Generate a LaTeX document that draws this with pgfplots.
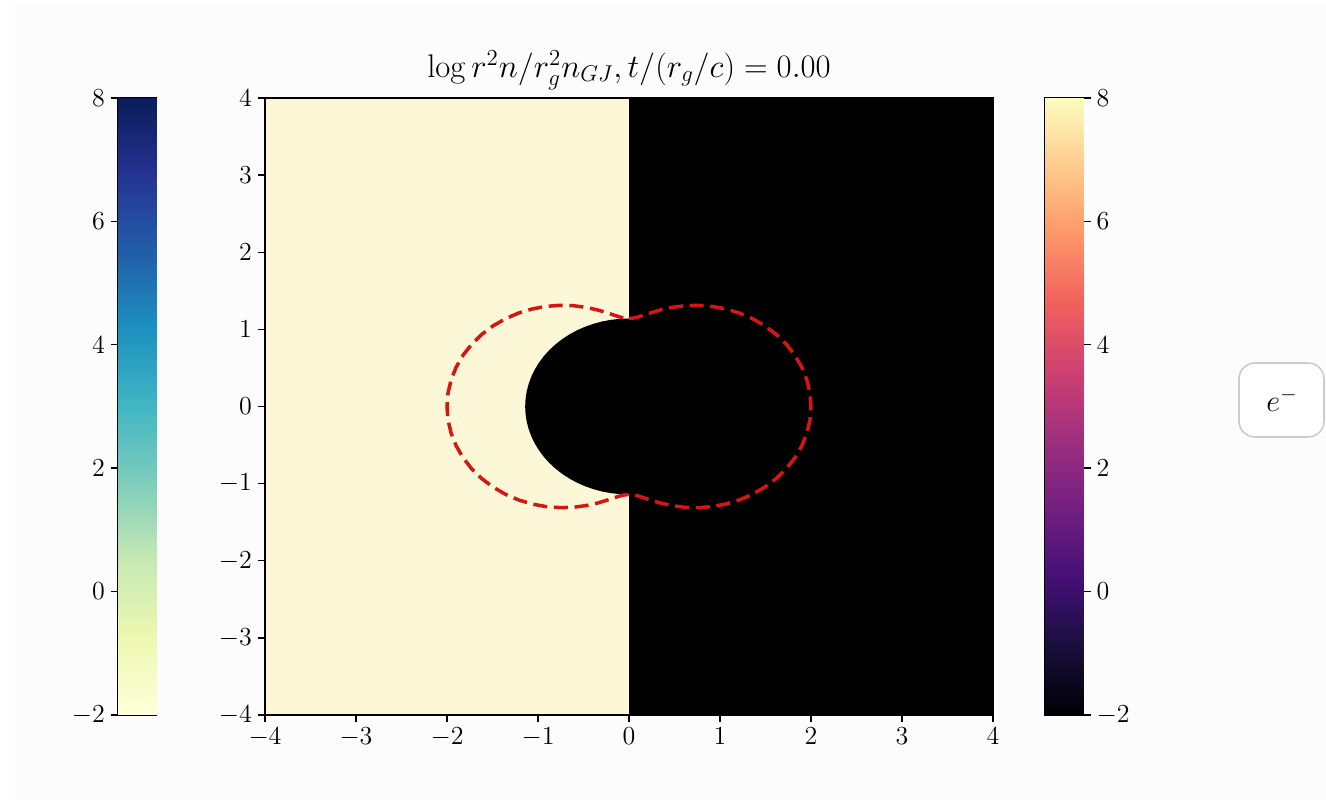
\RequirePackage{fix-cm}
\documentclass[border=0pt]{standalone}
\usepackage{pgfplots}
\pgfplotsset{compat=1.18}
\definecolor{cream}{RGB}{252,247,214}
\definecolor{bgc}{RGB}{252,252,252}
\definecolor{ergo}{RGB}{214,22,18}
\pgfplotsset{
  colormap={magma}{rgb255=(0,0,4) rgb255=(24,15,61) rgb255=(68,15,118) rgb255=(114,31,129) rgb255=(158,47,127) rgb255=(205,64,113) rgb255=(241,96,93) rgb255=(253,150,104) rgb255=(254,202,141) rgb255=(252,253,191)},
  colormap={ylgnbu}{rgb255=(255,255,217) rgb255=(237,248,177) rgb255=(199,233,180) rgb255=(127,205,187) rgb255=(65,182,196) rgb255=(29,145,192) rgb255=(34,94,168) rgb255=(37,52,148) rgb255=(8,29,88)},
  mystyle/.style={
    scale only axis,
    axis line style={black, line width=0.8pt},
    every tick/.style={black, line width=0.8pt},
    major tick length=0.14cm,
    tick align=outside,
    tick label style={font=\fontsize{14.8}{17}\selectfont},
    enlargelimits=false,
  },
  cbar/.style={
    mystyle,
    width=0.77cm, height=12.34cm,
    xmin=0, xmax=1, ymin=-2, ymax=8,
    xtick=\empty, ytick={-2,0,2,4,6,8},
    view={0}{90},
  },
}
\pgfplotstableread{
x y
0 -2
1 -2
0 -1.5
1 -1.5
0 -1
1 -1
0 -0.5
1 -0.5
0 0
1 0
0 0.5
1 0.5
0 1
1 1
0 1.5
1 1.5
0 2
1 2
0 2.5
1 2.5
0 3
1 3
0 3.5
1 3.5
0 4
1 4
0 4.5
1 4.5
0 5
1 5
0 5.5
1 5.5
0 6
1 6
0 6.5
1 6.5
0 7
1 7
0 7.5
1 7.5
0 8
1 8
}\cbardata
\begin{document}
\begin{tikzpicture}[x=1cm,y=1cm]
\fill[white] (0,0) rectangle (26.52,16);
\fill[bgc] (0.28,0) rectangle (26.52,15.94);
% left colorbar
\begin{axis}[cbar, at={(2.36cm,1.70cm)}, anchor=south west, ytick pos=left]
\addplot[surf, shader=interp, colormap name=ylgnbu, point meta=y, mesh/rows=21] table {\cbardata};
\end{axis}
% right colorbar
\begin{axis}[cbar, at={(20.90cm,1.70cm)}, anchor=south west, ytick pos=right]
\addplot[surf, shader=interp, colormap name=magma, point meta=y, mesh/rows=21] table {\cbardata};
\end{axis}
% main axis
\begin{axis}[mystyle, at={(5.30cm,1.70cm)}, anchor=south west,
  width=14.56cm, height=12.34cm,
  xmin=-4, xmax=4, ymin=-4, ymax=4,
  xtick={-4,-3,...,4}, ytick={-4,-3,...,4},
  xtick pos=left, ytick pos=left,
  axis on top,
  title={$\log r^2 n/r_g^2 n_{GJ}, t/(r_g/c) = 0.00$},
  title style={font=\fontsize{18.6}{21}\selectfont, at={(0.5,1)}, anchor=south, yshift=-0.12cm, inner sep=2pt},
]
\addplot[fill=cream, draw=none] coordinates {(-4,-4) (0,-4) (0,4) (-4,4) (-4,-4)};
\addplot[fill=black, draw=none] coordinates {(0,-4) (4,-4) (4,4) (0,4) (0,-4)};
% horizon (left half)
\addplot[fill=black, draw=none] coordinates {
(0,1.141) (-0.0994,1.1367) (-0.1981,1.1237) (-0.2953,1.1021) (-0.3902,1.0722) (-0.4822,1.0341)
(-0.5705,0.9881) (-0.6545,0.9347) (-0.7334,0.8741) (-0.8068,0.8068)
(-0.8741,0.7334) (-0.9347,0.6545) (-0.9881,0.5705) (-1.0341,0.4822) (-1.0722,0.3902)
(-1.1021,0.2953) (-1.1237,0.1981) (-1.1367,0.0994) (-1.141,0)
(-1.1367,-0.0994) (-1.1237,-0.1981) (-1.1021,-0.2953) (-1.0722,-0.3902) (-1.0341,-0.4822)
(-0.9881,-0.5705) (-0.9347,-0.6545) (-0.8741,-0.7334) (-0.8068,-0.8068) (-0.7334,-0.8741)
(-0.6545,-0.9347) (-0.5705,-0.9881) (-0.4822,-1.0341) (-0.3902,-1.0722) (-0.2953,-1.1021)
(-0.1981,-1.1237) (-0.0994,-1.1367) (0,-1.141) (0.02,-1.141) (0.02,1.141) (0,1.141)};
% ergosphere
\addplot[ergo, line width=2pt, dash pattern=on 8pt off 3.8pt] coordinates {
(0,1.1411) (0.0501,1.1464) (0.1016,1.1609) (0.1555,1.1811) (0.2123,1.2038) (0.3345,1.2485)
(0.4675,1.2844) (0.6092,1.3065) (0.7574,1.3118) (0.9092,1.2984) (1.0618,1.2654)
(1.2121,1.2121) (1.3570,1.1386) (1.4934,1.0457) (1.6185,0.9345) (1.7295,0.8065)
(1.8239,0.6638) (1.8996,0.5090) (1.9550,0.3447) (1.9887,0.1740) (2.0,0)
(1.9887,-0.1740) (1.9550,-0.3447) (1.8996,-0.5090) (1.8239,-0.6638) (1.7295,-0.8065)
(1.6185,-0.9345) (1.4934,-1.0457) (1.3570,-1.1386) (1.2121,-1.2121) (1.0618,-1.2654)
(0.9092,-1.2984) (0.7574,-1.3118) (0.6092,-1.3065) (0.4675,-1.2844) (0.3345,-1.2485)
(0.2123,-1.2038) (0.1555,-1.1811) (0.1016,-1.1609) (0.0501,-1.1464) (0,-1.1411)
(-0.0501,-1.1464) (-0.1016,-1.1609) (-0.1555,-1.1811) (-0.2123,-1.2038) (-0.3345,-1.2485)
(-0.4675,-1.2844) (-0.6092,-1.3065) (-0.7574,-1.3118) (-0.9092,-1.2984) (-1.0618,-1.2654)
(-1.2121,-1.2121) (-1.3570,-1.1386) (-1.4934,-1.0457) (-1.6185,-0.9345) (-1.7295,-0.8065)
(-1.8239,-0.6638) (-1.8996,-0.5090) (-1.9550,-0.3447) (-1.9887,-0.1740) (-2.0,0)
(-1.9887,0.1740) (-1.9550,0.3447) (-1.8996,0.5090) (-1.8239,0.6638) (-1.7295,0.8065)
(-1.6185,0.9345) (-1.4934,1.0457) (-1.3570,1.1386) (-1.2121,1.2121) (-1.0618,1.2654)
(-0.9092,1.2984) (-0.7574,1.3118) (-0.6092,1.3065) (-0.4675,1.2844) (-0.3345,1.2485)
(-0.2123,1.2038) (-0.1555,1.1811) (-0.1016,1.1609) (-0.0501,1.1464) (0,1.1411)};
\end{axis}
% legend box
\draw[rounded corners=0.32cm, draw={rgb,255:red,204;green,204;blue,204}, line width=0.9pt, fill=white]
  (24.78,7.26) rectangle (26.48,8.74);
\node[font=\fontsize{17.28}{20}\selectfont] at (25.64,8.0) {$e^-$};
\end{tikzpicture}
\end{document}
